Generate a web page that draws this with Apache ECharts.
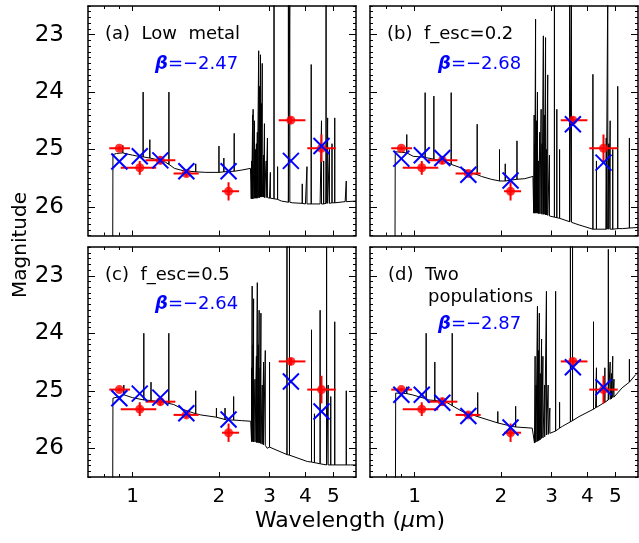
<!DOCTYPE html>
<html><head><meta charset="utf-8">
<script src="https://cdn.jsdelivr.net/npm/echarts@6/dist/echarts.min.js"></script>
<style>html,body{margin:0;padding:0;background:#fff}#c{width:639px;height:543px}</style>
</head><body><div id="c"></div>
<script>
// ---------- data ----------
const filterWave = [0.90, 1.06, 1.25, 1.54, 2.16, 3.56, 4.55];
const filterLo   = [0.83, 0.91, 1.11, 1.39, 2.05, 3.23, 4.06];
const filterHi   = [0.98, 1.21, 1.41, 1.70, 2.35, 4.00, 5.10];
const obsMag     = [24.98, 25.32, 25.19, 25.42, 25.73, 24.49, 24.98];
const obsErr     = [0.03, 0.12, 0.07, 0.05, 0.16, 0.06, 0.24];

const modelA = [25.21, 25.12, 25.19, 25.38, 25.38, 25.20, 24.94];
const modelB = [25.16, 25.10, 25.15, 25.44, 25.54, 24.56, 25.23];
const modelC = [25.13, 25.05, 25.12, 25.39, 25.50, 24.84, 25.36];
const modelD = [25.07, 25.07, 25.21, 25.44, 25.64, 24.59, 24.94];

const contA = [[0.70,27],[0.853,27],[0.855,25.09],[0.88,25.07],[0.925,25.06],[0.96,25.08],[1.0,25.10],[1.05,25.12],[1.089,25.13],[1.149,25.15],[1.2,25.17],[1.3,25.22],[1.339,25.26],[1.4,25.33],[1.5,25.37],[1.66,25.39],[1.8,25.40],[2.0,25.40],[2.08,25.39],[2.26,25.38],[2.4,25.36],[2.575,25.33],[2.59,25.86],[2.8,25.83],[3.0,25.85],[3.3,25.90],[3.6,25.93],[4.0,25.95],[4.5,25.95],[5.0,25.93],[5.5,25.91],[6.0,25.90]];
const linesA = [[0.925,25.06,24.93],[1.089,25.13,24.00],[1.149,25.15,24.83],[1.339,25.26,24.00],[1.66,25.39,25.25],[2.0,25.40,24.94],[2.08,25.39,25.15],[2.26,25.38,24.72],
  [2.60,25.86,25.2],[2.62,25.86,24.40],[2.63,25.86,24.3],[2.66,25.85,24.5],[2.68,25.85,25.0],[2.70,25.85,24.9],[2.72,25.85,24.7],[2.75,25.84,23.28],[2.77,25.84,23.9],[2.79,25.83,23.35],[2.81,25.83,24.2],[2.83,25.83,23.5],[2.86,25.83,25.1],[2.88,25.84,24.55],[2.92,25.84,25.2],[2.95,25.84,24.8],[3.02,25.85,25.4],[3.11,25.86,22.0],[3.2,25.87,25.3],[3.49,25.92,22.0],[3.53,25.92,22.0],[3.9,25.94,25.6],[4.05,25.95,25.3],[4.19,25.95,23.52],[4.55,25.95,24.5],[4.63,25.95,25.2],[4.72,25.94,22.0],[4.78,25.94,24.45],[4.85,25.94,25.0],[4.95,25.93,24.9],[5.06,25.93,24.45],[5.55,25.91,25.55]];

const contB = [[0.70,27],[0.855,27],[0.857,25.04],[0.9,25.05],[0.94,25.06],[0.99,25.12],[1.05,25.13],[1.089,25.14],[1.168,25.17],[1.27,25.2],[1.342,25.26],[1.45,25.32],[1.575,25.41],[1.653,25.44],[1.71,25.47],[1.85,25.52],[2.0,25.55],[2.2,25.53],[2.42,25.51],[2.585,25.47],[2.6,26.11],[2.84,26.14],[3.24,26.22],[3.71,26.31],[4.18,26.39],[4.84,26.39],[5.3,26.38],[6.0,26.36]];
const linesB = [[0.94,25.06,24.74],[1.089,25.14,24.01],[1.168,25.17,24.07],[1.342,25.26,24.01],[1.653,25.44,24.56],[1.977,25.55,25.0],[2.07,25.55,25.25],[2.274,25.52,24.85],
  [2.61,26.11,24.4],[2.62,26.11,24.9],[2.64,26.11,22.73],[2.66,26.11,24.5],[2.68,26.11,24.0],[2.70,26.12,25.2],[2.73,26.12,24.7],[2.76,26.12,24.3],[2.78,26.13,24.9],[2.81,26.13,23.02],[2.83,26.13,24.4],[2.86,26.14,23.05],[2.88,26.14,25.0],[2.91,26.15,23.7],[2.95,26.16,25.1],[3.07,26.18,22.0],[3.13,26.19,24.3],[3.2,26.2,25.0],[3.47,26.26,22.0],[3.52,26.27,22.0],[4.18,26.39,23.69],[4.3,26.39,25.2],[4.65,26.39,24.8],[4.71,26.39,22.0],[4.75,26.39,24.9],[4.8,26.39,24.5],[4.9,26.39,25.0],[5.1,26.38,23.9],[5.6,26.37,24.8]];

const contC = [[0.70,27],[0.853,27],[0.855,25.13],[0.9,25.10],[0.933,25.07],[1.0,25.12],[1.095,25.16],[1.16,25.17],[1.252,25.19],[1.338,25.22],[1.393,25.24],[1.51,25.33],[1.66,25.40],[1.726,25.42],[1.972,25.46],[2.137,25.51],[2.4,25.52],[2.58,25.53],[2.597,25.88],[2.944,26.0],[3.457,26.11],[4.06,26.23],[4.77,26.29],[5.75,26.29],[6.0,26.29]];
const linesC = [[0.933,25.07,24.9],[1.095,25.16,24.0],[1.16,25.17,24.85],[1.338,25.22,24.0],[1.66,25.40,25.0],[1.96,25.46,25.3],[2.1,25.50,25.3],[2.25,25.51,25.1],
  [2.60,25.88,24.6],[2.61,25.88,23.18],[2.63,25.89,24.2],[2.64,25.89,23.4],[2.67,25.89,24.8],[2.70,25.9,24.4],[2.72,25.9,23.12],[2.74,25.9,24.2],[2.76,25.91,23.6],[2.78,25.91,24.6],[2.80,25.92,23.65],[2.83,25.93,24.9],[2.86,25.94,24.5],[2.9,25.95,24.3],[3.0,25.98,24.5],[3.45,26.11,22.0],[3.52,26.12,22.0],[4.2,26.24,23.94],[4.3,26.25,25.4],[4.5,26.27,23.6],[4.74,26.29,22.5],[4.8,26.29,24.9],[4.9,26.29,25.1],[5.06,26.29,23.8],[5.55,26.29,25.0]];

const contD = [[0.70,27],[0.858,27],[0.86,25.04],[0.94,25.05],[0.981,25.07],[1.098,25.14],[1.122,25.16],[1.177,25.17],[1.282,25.19],[1.353,25.26],[1.466,25.36],[1.66,25.45],[1.967,25.56],[2.188,25.62],[2.57,25.65],[2.617,25.91],[2.862,25.77],[3.27,25.62],[3.737,25.45],[4.27,25.30],[4.87,25.13],[5.28,24.95],[5.89,24.72],[6.0,24.68]];
const linesD = [[0.94,25.05,24.93],[1.098,25.14,24.0],[1.177,25.17,24.5],[1.353,25.26,24.0],[1.66,25.45,25.03],[1.95,25.56,25.36],[2.25,25.63,25.27],
  [2.63,25.9,24.4],[2.65,25.89,24.9],[2.68,25.88,23.53],[2.70,25.87,24.3],[2.72,25.86,23.65],[2.74,25.85,24.7],[2.77,25.83,24.1],[2.80,25.82,24.4],[2.84,25.80,24.9],[2.88,25.77,23.27],[2.92,25.76,24.9],[2.96,25.74,25.3],[3.1,25.70,23.27],[3.2,25.65,25.2],[3.49,25.54,22.0],[3.55,25.52,22.0],[4.2,25.32,23.8],[4.3,25.29,24.6],[4.6,25.2,24.6],[4.73,25.16,22.54],[4.8,25.15,24.5],[4.85,25.14,24.7],[4.9,25.12,24.4],[4.95,25.11,24.8],[5.6,24.85,24.45]];

const xMajorTicks = [1, 2, 3, 4, 5];
const xMinorTicks = [0.8, 0.9];
const yMajorTicks = [23, 24, 25, 26];

const panelTitles = [['(a)  Low  metal'], ['(b)  f_esc=0.2'], ['(c)  f_esc=0.5'], ['(d)  Two', 'populations']];
const betaValues = ['−2.47', '−2.68', '−2.64', '−2.87'];

// ---------- layout ----------
const FONT = 'DejaVu Sans';
const grids = [
  {left: 88, top: 6, width: 268, height: 229.5},
  {left: 370, top: 6, width: 268, height: 229.5},
  {left: 88, top: 247, width: 268, height: 230},
  {left: 370, top: 247, width: 268, height: 230}
];
const XMIN = 0.7, XMAX = 6;
const LMIN = Math.log10(XMIN), LMAX = Math.log10(XMAX);
const axLine = {show: true, onZero: false, lineStyle: {color: '#000', width: 1.5}};
const noLine = {show: false, onZero: false};
const tickStyle = {color: '#000', width: 1};

function buildSpectrum(cont, lines) {
  const pts = cont.map(p => ({x: p[0], o: 0, seg: [[p[0], p[1]]]}));
  lines.forEach(l => pts.push({x: l[0], o: 1, seg: [[l[0], l[1]], [l[0], l[2]], [l[0], l[1]]]}));
  pts.sort((a, b) => a.x - b.x || a.o - b.o);
  return pts.flatMap(p => p.seg);
}

const xAxes = [], yAxes = [], series = [];
const conts = [contA, contB, contC, contD];
const lines = [linesA, linesB, linesC, linesD];
const models = [modelA, modelB, modelC, modelD];

grids.forEach((g, i) => {
  const isLeft = i % 2 === 0, isBottom = i >= 2;
  const base = {gridIndex: i, splitLine: {show: false}, minorTick: {show: false}, minorSplitLine: {show: false}};
  xAxes.push(Object.assign({}, base, {type: 'log', logBase: 10, min: XMIN, max: XMAX, position: 'bottom',
    axisLine: axLine, axisTick: {show: false}, axisLabel: {show: false}}));
  const lv = (arr) => arr.map(v => Math.log10(v));
  const mk = (pos, ticks, len, showLabel, line) => Object.assign({}, base, {
    type: 'value', min: LMIN, max: LMAX, position: pos,
    axisLine: line ? axLine : noLine,
    axisTick: {show: true, inside: true, length: len, customValues: lv(ticks), lineStyle: tickStyle},
    axisLabel: showLabel ? {show: true, customValues: lv(ticks), formatter: v => String(Math.round(Math.pow(10, v))),
      margin: 10, fontSize: 20, color: '#000', fontFamily: FONT} : {show: false}
  });
  xAxes.push(mk('bottom', xMajorTicks, 5, isBottom, false));
  xAxes.push(mk('bottom', xMinorTicks, 3, false, false));
  xAxes.push(mk('top', xMajorTicks, 5, false, true));
  xAxes.push(mk('top', xMinorTicks, 3, false, false));
  const ybase = Object.assign({}, base, {type: 'value', min: 22.5, max: 26.5, inverse: true});
  yAxes.push(Object.assign({}, ybase, {position: 'left', interval: 0.1, axisLine: axLine,
    axisTick: {show: true, inside: true, length: 3, lineStyle: tickStyle}, axisLabel: {show: false}}));
  yAxes.push(Object.assign({}, ybase, {position: 'left', axisLine: noLine,
    axisTick: {show: true, inside: true, length: 7, customValues: yMajorTicks, lineStyle: tickStyle},
    axisLabel: isLeft ? {show: true, customValues: yMajorTicks, margin: 24, fontSize: 23, color: '#000', fontFamily: FONT} : {show: false}}));
  yAxes.push(Object.assign({}, ybase, {position: 'right', interval: 0.1, axisLine: axLine,
    axisTick: {show: true, inside: true, length: 3, lineStyle: tickStyle}, axisLabel: {show: false}}));
  yAxes.push(Object.assign({}, ybase, {position: 'right', axisLine: noLine,
    axisTick: {show: true, inside: true, length: 7, customValues: yMajorTicks, lineStyle: tickStyle}, axisLabel: {show: false}}));

  const xi = i * 5, yi = i * 4;
  series.push({type: 'line', xAxisIndex: xi, yAxisIndex: yi, data: buildSpectrum(conts[i], lines[i]),
    showSymbol: false, symbol: 'none', clip: true, lineStyle: {color: '#000', width: 1}, z: 2, silent: true});
  series.push({type: 'custom', xAxisIndex: xi, yAxisIndex: yi, clip: true, z: 3,
    data: filterWave.map((w, k) => [w, obsMag[k], filterLo[k], filterHi[k], obsErr[k]]),
    renderItem: (params, api) => {
      const w = api.value(0), m = api.value(1), e = api.value(4);
      const l = api.coord([api.value(2), m]), r = api.coord([api.value(3), m]);
      const t = api.coord([w, m - e]), b = api.coord([w, m + e]);
      return {type: 'group', children: [
        {type: 'line', shape: {x1: l[0], y1: l[1], x2: r[0], y2: r[1]}, style: {stroke: '#ff0000', lineWidth: 2}},
        {type: 'line', shape: {x1: t[0], y1: t[1], x2: b[0], y2: b[1]}, style: {stroke: '#ff0000', lineWidth: 2}}
      ]};
    }});
  series.push({type: 'scatter', xAxisIndex: xi, yAxisIndex: yi, z: 4, symbol: 'circle', symbolSize: 9,
    itemStyle: {color: '#ff0000'}, data: filterWave.map((w, k) => [w, obsMag[k]])});
  series.push({type: 'custom', xAxisIndex: xi, yAxisIndex: yi, z: 5,
    data: filterWave.map((w, k) => [w, models[i][k]]),
    renderItem: (params, api) => {
      const c = api.coord([api.value(0), api.value(1)]), s = 8;
      return {type: 'group', children: [
        {type: 'line', shape: {x1: c[0] - s, y1: c[1] - s, x2: c[0] + s, y2: c[1] + s}, style: {stroke: '#0000ff', lineWidth: 2}},
        {type: 'line', shape: {x1: c[0] - s, y1: c[1] + s, x2: c[0] + s, y2: c[1] - s}, style: {stroke: '#0000ff', lineWidth: 2}}
      ]};
    }});
});

const graphic = [];
const titleXY = [[105, 36], [387, 36], [105, 277], [388, 277]];
const betaXY = [[155, 65], [438, 65], [155, 305], [438, 325]];
panelTitles.forEach((t, i) => {
  t.forEach((line, j) => {
    graphic.push({type: 'text', left: (j === 0 ? titleXY[i][0] : 428), top: titleXY[i][1] - 11 + j * 22,
      style: {text: line, font: '18px "' + FONT + '"', fill: '#000'}, z: 10});
  });
  graphic.push({type: 'text', left: betaXY[i][0], top: betaXY[i][1] - 10,
    style: {text: '{b|β}{n|=' + betaValues[i] + '}', rich: {
      b: {fontFamily: FONT, fontSize: 18, fontWeight: 'bold', fill: '#0000ff', fontStyle: 'italic'},
      n: {fontFamily: FONT, fontSize: 18, fill: '#0000ff'}}, fill: '#0000ff'}, z: 10});
});
graphic.push({type: 'text', left: 255, top: 510,
  style: {text: 'Wavelength ({i|μ}m)', font: '22px "' + FONT + '"', fill: '#000',
    rich: {i: {fontFamily: FONT, fontSize: 22, fontStyle: 'italic', fill: '#000'}}}});
graphic.push({type: 'text', x: 21, y: 245, rotation: Math.PI / 2,
  style: {text: 'Magnitude', font: '20px "' + FONT + '"', fill: '#000', align: 'center', verticalAlign: 'middle'}});

const chart = echarts.init(document.getElementById('c'), null, {renderer: 'canvas'});
chart.setOption({animation: false, backgroundColor: '#fff', grid: grids, xAxis: xAxes, yAxis: yAxes, series: series, graphic: graphic});
</script></body></html>
